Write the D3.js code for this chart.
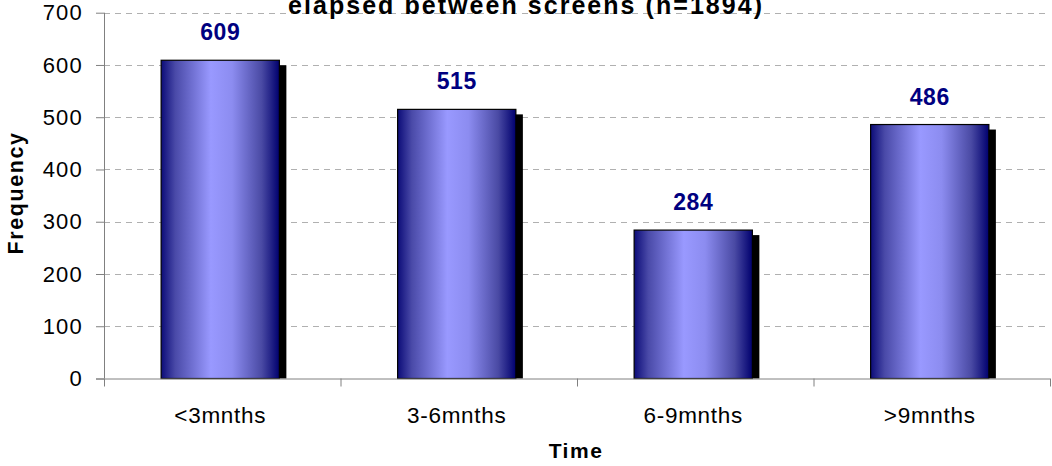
<!DOCTYPE html>
<html><head><meta charset="utf-8">
<script src="https://cdn.jsdelivr.net/npm/d3@7"></script>
<style>body{margin:0;background:#fff}svg{display:block}text{font-family:Arial,"Liberation Sans",sans-serif}</style>
</head><body>
<svg id="c" width="1052" height="466"></svg>
<script>
const categories = ["<3mnths","3-6mnths","6-9mnths",">9mnths"];
const values = [609,515,284,486];
const yTicks = [0,100,200,300,400,500,600,700];
const titleText = "elapsed between screens (n=1894)";

const svg = d3.select("#c");
const m = {l:104, r:1050, t:12.7, b:378.5};
const x = d3.scaleBand().domain(categories).range([m.l, m.r]).paddingInner(0.5).paddingOuter(0.25);
const xb = d3.scaleBand().domain(categories).range([m.l, m.r]);
const y = d3.scaleLinear().domain([0,700]).range([m.b, m.t]);
const bx = c => x(c) - 2;

const defs = svg.append("defs");
const g = defs.append("linearGradient").attr("id","bg").attr("x1","0").attr("x2","1").attr("y1","0").attr("y2","0");
[[0,"#0c0c78"],[0.12,"#4a4aa8"],[0.42,"#9999ff"],[0.6,"#8c8cf0"],[0.85,"#4a4aa4"],[1,"#00006e"]].forEach(s=>g.append("stop").attr("offset",s[0]).attr("stop-color",s[1]));

// gridlines
svg.append("g").selectAll("line").data(yTicks.filter(d=>d>0)).join("line")
  .attr("x1",m.l).attr("x2",m.r).attr("y1",d=>Math.round(y(d))+0.5).attr("y2",d=>Math.round(y(d))+0.5)
  .attr("stroke","#b0b0b0").attr("stroke-dasharray","6,5").attr("stroke-width",1);

// title (behind grid-level elements, as in the reference the 700 gridline shows through)
svg.append("text").attr("x",525).attr("y",14).attr("text-anchor","middle")
  .attr("font-size",25).attr("font-weight","bold")
  .attr("textLength",474).attr("lengthAdjust","spacing").text(titleText);

// shadows
svg.append("g").selectAll("rect").data(values).join("rect")
  .attr("x",(d,i)=>bx(categories[i])+7).attr("y",d=>y(d)+5)
  .attr("width",x.bandwidth()).attr("height",d=>m.b-y(d)-5).attr("fill","#000");
// bars
svg.append("g").selectAll("rect").data(values).join("rect")
  .attr("x",(d,i)=>bx(categories[i])).attr("y",d=>y(d))
  .attr("width",x.bandwidth()).attr("height",d=>m.b-y(d))
  .attr("fill","url(#bg)").attr("stroke","#000").attr("stroke-width",1.2);

// value labels
svg.append("g").selectAll("text").data(values).join("text")
  .attr("x",(d,i)=>bx(categories[i])+x.bandwidth()/2).attr("y",d=>y(d)-20)
  .attr("text-anchor","middle").attr("font-size",23).attr("font-weight","bold").attr("fill","#000080")
  .attr("letter-spacing","0.6px")
  .text(d=>d);

// y axis
const ya = svg.append("g").attr("transform",`translate(${m.l},0)`)
  .call(d3.axisLeft(y).tickValues(yTicks).tickSize(8).tickPadding(13));
ya.select(".domain").attr("stroke","#808080").attr("d",`M0.5,${m.t}V${m.b}`);
ya.selectAll(".tick line").attr("stroke","#808080");
ya.selectAll("text").attr("font-size",22).attr("fill","#000").attr("letter-spacing","1.2px")
  .attr("font-family","Arial, Liberation Sans, sans-serif");

// x axis
const xa = svg.append("g").attr("transform",`translate(0,${m.b})`);
xa.append("line").attr("x1",m.l-8).attr("x2",m.r).attr("y1",0.5).attr("y2",0.5).attr("stroke","#808080");
xa.selectAll("line.t").data(categories.concat(["end"])).join("line").attr("class","t")
  .attr("x1",(d,i)=>m.l+i*xb.bandwidth()+0.5).attr("x2",(d,i)=>m.l+i*xb.bandwidth()+0.5)
  .attr("y1",0).attr("y2",8).attr("stroke","#808080");
xa.selectAll("text").data(categories).join("text")
  .attr("x",d=>xb(d)+xb.bandwidth()/2-2).attr("y",44.5)
  .attr("text-anchor","middle").attr("font-size",22.5).attr("letter-spacing","0.7px")
  .attr("fill","#000").text(d=>d);

// axis titles
svg.append("text").attr("x",576).attr("y",458).attr("text-anchor","middle")
  .attr("font-size",21).attr("font-weight","bold").attr("letter-spacing","1.5px").text("Time");
svg.append("text").attr("transform","translate(23,193) rotate(-90)").attr("text-anchor","middle")
  .attr("font-size",21.5).attr("font-weight","bold").attr("letter-spacing","1.6px").text("Frequency");
</script>
</body></html>
